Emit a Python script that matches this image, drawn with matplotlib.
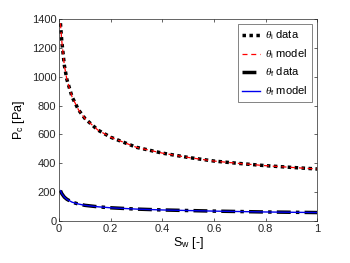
import matplotlib
matplotlib.use("Agg")
import matplotlib.pyplot as plt

plt.rcParams['font.family'] = ['Liberation Sans', 'DejaVu Sans']
plt.rcParams['mathtext.fontset'] = 'custom'
plt.rcParams['mathtext.it'] = 'Liberation Serif:italic'
plt.rcParams['mathtext.rm'] = 'Liberation Sans'

sw = [0.005, 0.01, 0.02, 0.03, 0.05, 0.075, 0.1, 0.15, 0.2, 0.3, 0.4, 0.5, 0.6, 0.7, 0.8, 0.9, 1.0]
pc_i = [1370, 1250, 1080, 980, 860, 770, 710, 630, 580, 510, 470, 440, 415, 398, 383, 371, 360]
pc_f = [210, 190, 165, 150, 130, 117, 108, 98, 91, 82, 76, 72, 68, 65, 62, 60, 58]

fig = plt.figure(figsize=(3.5, 2.63), dpi=100)
ax = fig.add_axes([0.169, 0.160, 0.737, 0.768])

ax.plot(sw, pc_i, color='black', linestyle=(0, (1, 1)), linewidth=2.5, label=r'$\theta_\mathregular{i}$ data')
ax.plot(sw, pc_i, color='red', linestyle=(0, (4, 3)), linewidth=0.9, label=r'$\theta_\mathregular{i}$ model')
ax.plot(sw, pc_f, color='black', linestyle=(0, (4, 1.5, 1, 1.5)), linewidth=2.5, label=r'$\theta_\mathregular{f}$ data')
ax.plot(sw, pc_f, color='#0000ee', linestyle='-', linewidth=1.0, label=r'$\theta_\mathregular{f}$ model')

ax.set_xlim(0, 1)
ax.set_ylim(0, 1400)
ax.set_xticks([0, 0.2, 0.4, 0.6, 0.8, 1])
ax.set_xticklabels(['0', '0.2', '0.4', '0.6', '0.8', '1'])
ax.set_yticks(range(0, 1401, 200))
ax.tick_params(direction='in', top=True, right=True, labelsize=8, length=2.5, width=0.5, colors='#262626', pad=2)
for s in ax.spines.values():
    s.set_linewidth(0.5)
    s.set_color('#262626')
ax.set_xlabel(r'S$_\mathregular{w}$ [-]', fontsize=9, labelpad=1)
ax.set_ylabel(r'P$_\mathregular{c}$ [Pa]', fontsize=9, labelpad=3)

leg = ax.legend(loc='upper right', fontsize=8, frameon=True, fancybox=False,
                edgecolor='#262626', handlelength=1.6, borderaxespad=0.5,
                labelspacing=0.45, handletextpad=0.4, borderpad=0.4)
leg.get_frame().set_linewidth(0.5)

fig.savefig('out.png', dpi=100)
